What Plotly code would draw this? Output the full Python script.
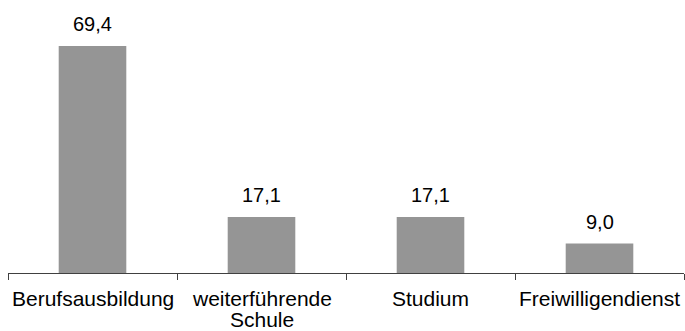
import plotly.graph_objects as go

# Anteile in Prozent je Anschlussperspektive
kategorien = ["Berufsausbildung", "weiterführende<br>Schule", "Studium", "Freiwilligendienst"]
werte = [69.4, 17.1, 17.1, 9.0]

BALKEN = "#959595"
ACHSE = "#404040"
SCHRIFT = "Liberation Sans, Arial, sans-serif"

fig = go.Figure(
    go.Bar(
        x=list(range(len(kategorien))),
        y=werte,
        width=0.4,
        marker=dict(color=BALKEN, line=dict(width=0)),
        hoverinfo="skip",
    )
)

annotations = []
# Wertebeschriftungen über den Balken
for i, v in enumerate(werte):
    annotations.append(dict(
        x=i, y=v, xref="x", yref="y",
        text=f"{v:.1f}".replace(".", ","),
        showarrow=False, yanchor="bottom", yshift=9,
        font=dict(family=SCHRIFT, size=20, color="#000000"),
    ))
# Kategorienamen unter der Achse, Zeile für Zeile
for i, name in enumerate(kategorien):
    for j, zeile in enumerate(name.split("<br>")):
        annotations.append(dict(
            x=i, y=0, xref="x", yref="y",
            text=zeile, borderpad=0,
            showarrow=False, yanchor="top", yshift=-13 - 21 * j,
            font=dict(family=SCHRIFT, size=21, color="#000000"),
        ))

fig.update_layout(
    width=685, height=331,
    margin=dict(l=8, r=1, t=0, b=58),
    paper_bgcolor="white", plot_bgcolor="white",
    showlegend=False,
    annotations=annotations,
    xaxis=dict(
        type="linear", range=[-0.5, 3.5],
        tickmode="array", tickvals=[-0.5, 0.5, 1.5, 2.5, 3.5],
        showticklabels=False,
        ticks="outside", ticklen=6, tickwidth=1, tickcolor=ACHSE,
        showline=True, linecolor=ACHSE, linewidth=1,
        showgrid=False, zeroline=False, fixedrange=True,
    ),
    yaxis=dict(
        range=[0, 83.46], visible=False, fixedrange=True,
    ),
)

fig.write_html("out.html", config={"displayModeBar": False})
